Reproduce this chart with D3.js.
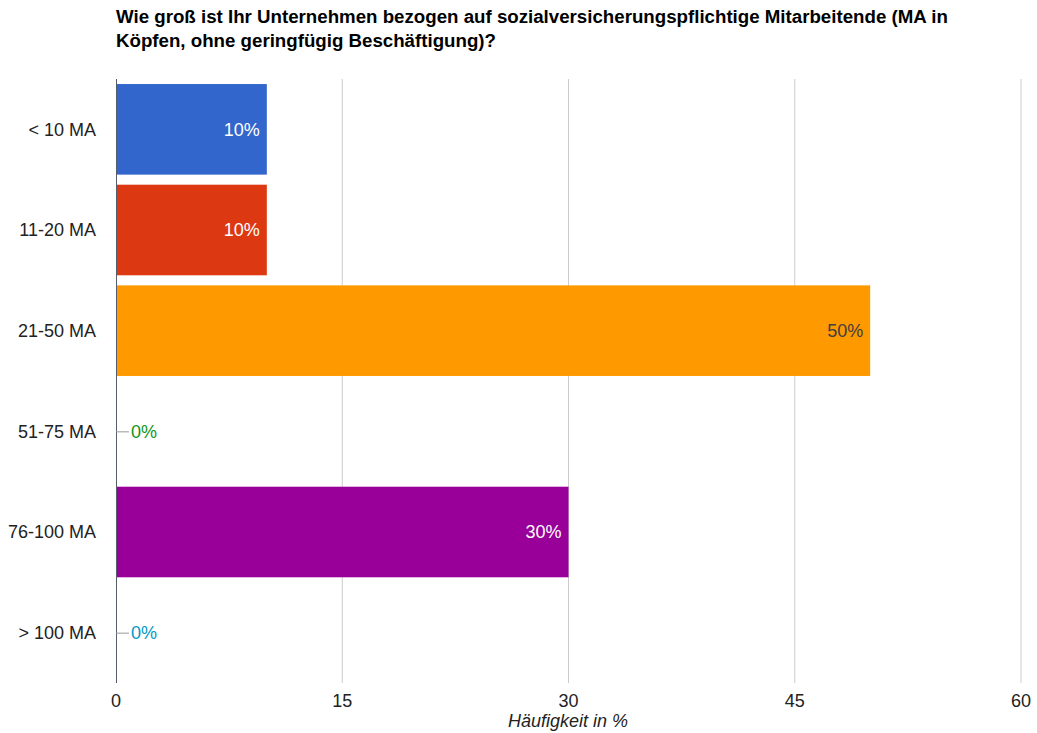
<!DOCTYPE html>
<html>
<head>
<meta charset="utf-8">
<script src="https://cdn.jsdelivr.net/npm/d3@7"></script>
<style>
  body { margin: 0; background: #fff; }
  svg { font-family: "Liberation Sans", Arial, sans-serif; }
</style>
</head>
<body>
<svg id="chart" width="1037" height="733"></svg>
<script>
// Survey: company size by employees subject to social insurance
const categories = ["< 10 MA", "11-20 MA", "21-50 MA", "51-75 MA", "76-100 MA", "> 100 MA"];
const values = [10, 10, 50, 0, 30, 0];
const barColors = ["#3366cc", "#dc3912", "#ff9900", "#109618", "#990099", "#0099c6"];
const labelColors = ["#ffffff", "#ffffff", "#404040", "#109618", "#ffffff", "#0099c6"];
const xTicks = [0, 15, 30, 45, 60];
const titleLines = [
  "Wie groß ist Ihr Unternehmen bezogen auf sozialversicherungspflichtige Mitarbeitende (MA in",
  "Köpfen, ohne geringfügig Beschäftigung)?"
];
const xTitle = "Häufigkeit in %";

const svg = d3.select("#chart");
const plotLeft = 116, plotRight = 1021, plotTop = 79, plotBottom = 683;
const fs = 18;

const x = d3.scaleLinear().domain([0, 60]).range([plotLeft, plotRight]);
const y = d3.scaleBand().domain(categories).range([plotTop, plotBottom])
  .paddingInner(0.1).paddingOuter(0.05);

// Title
svg.append("g").selectAll("text").data(titleLines).join("text")
  .attr("x", 116).attr("y", (d, i) => 23 + i * 24)
  .attr("font-size", 18.7).attr("font-weight", "bold").attr("fill", "#000")
  .text(d => d);

// Vertical gridlines
svg.append("g").selectAll("line").data(xTicks.slice(1)).join("line")
  .attr("x1", d => x(d)).attr("x2", d => x(d))
  .attr("y1", plotTop).attr("y2", plotBottom)
  .attr("stroke", "#cccccc").attr("stroke-width", 1);

// Bars
svg.append("g").selectAll("rect").data(values).join("rect")
  .attr("x", x(0))
  .attr("y", (d, i) => y(categories[i]))
  .attr("width", d => x(d) - x(0))
  .attr("height", y.bandwidth())
  .attr("fill", (d, i) => barColors[i]);

// Baseline axis
svg.append("line")
  .attr("x1", x(0) + 0.5).attr("x2", x(0) + 0.5)
  .attr("y1", plotTop).attr("y2", plotBottom)
  .attr("stroke", "#555e6b").attr("stroke-width", 1);

// Category labels
svg.append("g").selectAll("text").data(categories).join("text")
  .attr("x", 96)
  .attr("y", d => y(d) + y.bandwidth() / 2)
  .attr("dy", "0.36em")
  .attr("text-anchor", "end")
  .attr("font-size", fs).attr("fill", "#222")
  .text(d => d);

// Leader lines for zero values
svg.append("g").selectAll("line").data(values.map((v, i) => ({ v, i })).filter(d => d.v === 0)).join("line")
  .attr("x1", x(0)).attr("x2", x(0) + 13)
  .attr("y1", d => y(categories[d.i]) + y.bandwidth() / 2 + 0.5)
  .attr("y2", d => y(categories[d.i]) + y.bandwidth() / 2 + 0.5)
  .attr("stroke", "#999").attr("stroke-width", 1);

// Value labels
svg.append("g").selectAll("text").data(values).join("text")
  .attr("x", d => d === 0 ? x(0) + 15 : x(d) - 7)
  .attr("y", (d, i) => y(categories[i]) + y.bandwidth() / 2)
  .attr("dy", "0.36em")
  .attr("text-anchor", d => d === 0 ? "start" : "end")
  .attr("font-size", fs)
  .attr("fill", (d, i) => labelColors[i])
  .text(d => d + "%");

// X tick labels
svg.append("g").selectAll("text").data(xTicks).join("text")
  .attr("x", d => x(d)).attr("y", 707)
  .attr("text-anchor", "middle")
  .attr("font-size", fs).attr("fill", "#222")
  .text(d => d);

// X axis title
svg.append("text")
  .attr("x", (plotLeft + plotRight) / 2 - 0.5).attr("y", 727)
  .attr("text-anchor", "middle")
  .attr("font-size", fs).attr("font-style", "italic").attr("fill", "#222")
  .text(xTitle);
</script>
</body>
</html>
